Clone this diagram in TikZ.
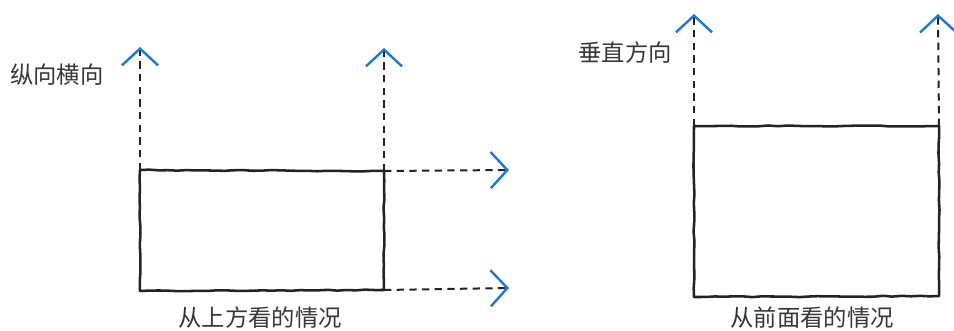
\documentclass[tikz,border=0pt]{standalone}
\usepackage{fontspec}
\newfontfamily\cjk{Noto Sans CJK SC}
\usetikzlibrary{arrows.meta,decorations.pathmorphing}
\definecolor{tipblue}{RGB}{28,120,215}
\definecolor{inkgray}{RGB}{55,55,55}
\tikzset{
  box/.style={line width=1.9pt, draw={rgb,255:red,35;green,35;blue,35},
    line join=round, decorate,
    decoration={random steps, segment length=7pt, amplitude=0.4pt}},
  guide/.style={line width=1.5pt, dash pattern={on 5.5pt off 4pt},
    draw={rgb,255:red,35;green,35;blue,35},
    -{Straight Barb[length=12.5pt, width=27pt, line width=1.8pt, color=tipblue]}},
  caption/.style={font=\cjk\fontsize{17.5}{20}\selectfont, text=inkgray, inner sep=0pt}
}
\begin{document}
\begin{tikzpicture}[x=0.75pt,y=0.75pt,yscale=-1,xscale=1]
\useasboundingbox (0,0) rectangle (954,331);

%Shape: Rectangle [top view]
\coordinate (tl) at (140,170);
\coordinate (tr) at (384,171);
\coordinate (br) at (384,290);
\coordinate (bl) at (140,291);
\draw [box] (tl) -- (tr) -- (br) -- (bl) -- cycle ;
%Guides [top view]
\coordinate (tlup) at (140,47);
\coordinate (trup) at (384,48);
\coordinate (trout) at (509,170);
\coordinate (brout) at (509,288);
\draw [guide] (tl) -- (tlup) ;
\draw [guide] (tr) -- (trup) ;
\draw [guide] (tr) -- (trout) ;
\draw [guide] (br) -- (brout) ;

%Shape: Rectangle [front view]
\coordinate (ftl) at (694,126);
\coordinate (ftr) at (939,126);
\coordinate (fbr) at (939,296);
\coordinate (fbl) at (694,297);
\draw [box] (ftl) -- (ftr) -- (fbr) -- (fbl) -- cycle ;
%Guides [front view]
\coordinate (ftlup) at (694,14);
\coordinate (ftrup) at (938,14);
\draw [guide] (ftl) -- (ftlup) ;
\draw [guide] (ftr) -- (ftrup) ;

% Text Node
\node [caption] (lbltop) at (57,75) {纵向横向};
% Text Node
\node [caption] (lblfront) at (625,53) {垂直方向};
% Text Node
\node [caption] (captop) at (260,318) {从上方看的情况};
% Text Node
\node [caption] (capfront) at (812,318) {从前面看的情况};

\end{tikzpicture}
\end{document}
